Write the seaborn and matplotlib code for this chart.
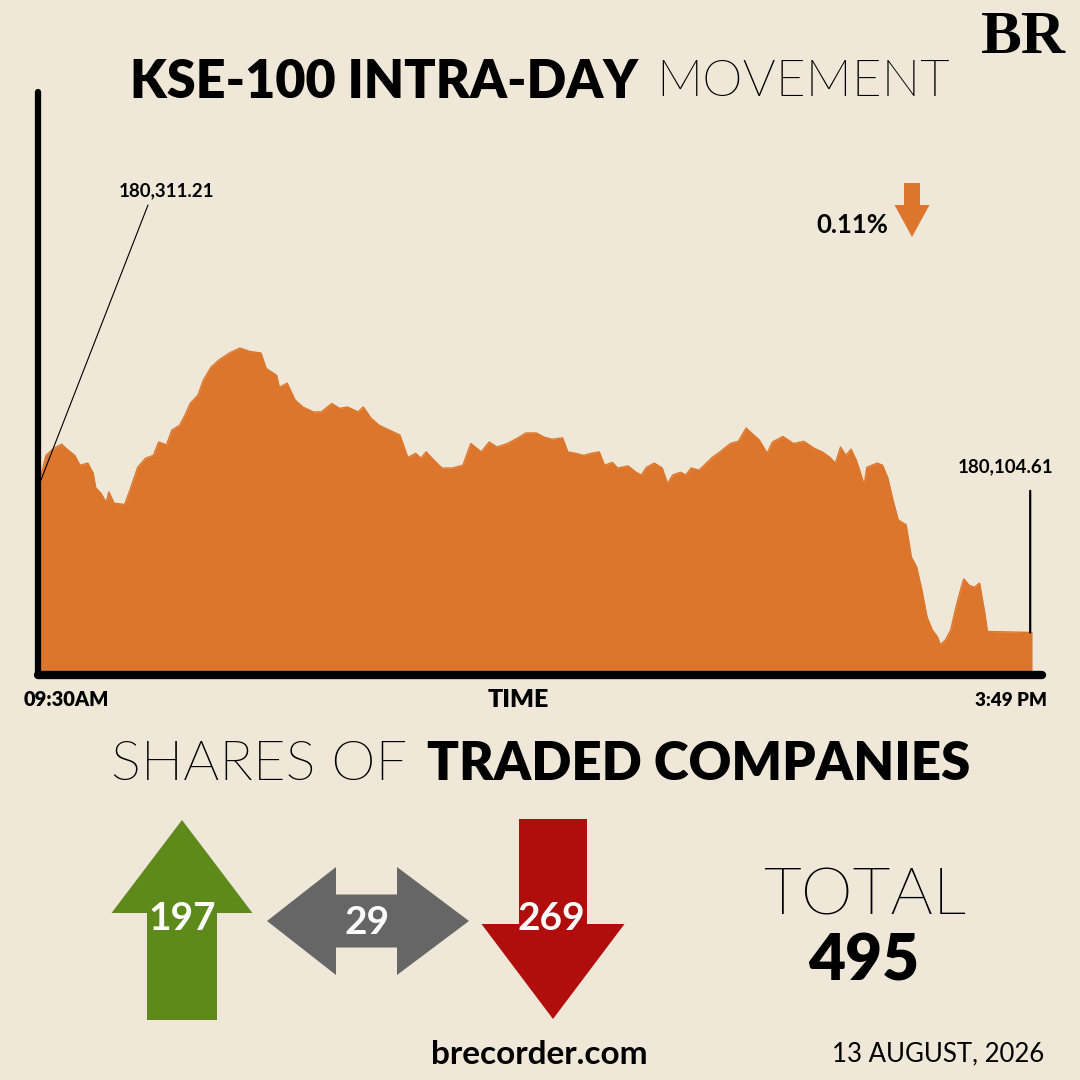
import matplotlib
matplotlib.use("Agg")
import matplotlib.pyplot as plt
import seaborn as sns
import pandas as pd
from matplotlib.patches import Polygon
from matplotlib import font_manager

# minutes after 09:30 and KSE-100 level
minutes = [0, 3, 6, 9, 11, 14, 16, 19, 21, 22, 24, 26, 27, 29, 33, 35, 38, 41, 44, 46,
           49, 51, 54, 56, 58, 61, 63, 66, 69, 73, 77, 81, 85, 87, 91, 92, 95, 98, 101, 105,
           108, 112, 115, 118, 122, 124, 127, 130, 134, 138, 141, 144, 146, 148, 151, 154, 158, 162, 165, 169,
           172, 175, 179, 183, 186, 190, 193, 196, 200, 202, 205, 208, 211, 214, 216, 219, 221, 225, 228, 230,
           232, 235, 238, 240, 242, 245, 247, 249, 252, 254, 257, 260, 264, 267, 270, 272, 275, 278, 280, 284,
           288, 292, 296, 299, 302, 304, 306, 308, 310, 312, 313, 315, 316, 320, 322, 324, 326, 328, 331, 333,
           335, 337, 339, 341, 343, 344, 346, 348, 350, 352, 353, 355, 357, 359, 361, 362, 379]
kse = [180311.21, 180357, 180367, 180373, 180366, 180357, 180343, 180346, 180332, 180311,
       180303, 180290, 180305, 180289, 180287, 180307, 180340, 180353, 180357, 180376,
       180372, 180393, 180400, 180414, 180431, 180443, 180464, 180483, 180493, 180503,
       180510, 180505, 180503, 180481, 180471, 180454, 180460, 180436, 180426, 180419,
       180419, 180431, 180424, 180426, 180419, 180426, 180410, 180400, 180393, 180386,
       180354, 180360, 180353, 180362, 180350, 180339, 180339, 180343, 180374, 180362,
       180376, 180369, 180374, 180382, 180389, 180389, 180383, 180380, 180382, 180362,
       180360, 180357, 180360, 180362, 180343, 180347, 180339, 180342, 180333, 180329,
       180340, 180346, 180339, 180317, 180329, 180333, 180329, 180339, 180336, 180343,
       180354, 180362, 180374, 180377, 180396, 180389, 180379, 180360, 180376, 180384,
       180374, 180377, 180367, 180362, 180354, 180346, 180369, 180357, 180366, 180350,
       180339, 180315, 180340, 180346, 180343, 180325, 180293, 180265, 180258, 180212,
       180198, 180165, 180126, 180108, 180098, 180087, 180094, 180108, 180141, 180169,
       180181, 180172, 180169, 180175, 180132, 180106, 180104.61]

advancers = 197
unchanged = 29
decliners = 269
date_label = "13 AUGUST, 2026"

bg = "#EFE8D8"
orange = "#DC762C"
green = "#5E8A1C"
grey = "#666666"
red = "#B20D0D"

sns.set_style("white")
plt.rcParams['font.family'] = ['Lato', 'DejaVu Sans']
plt.rcParams['text.color'] = 'black'

# pick Lato Light by file if it is there, the "light" weight lookup lands on Hairline
light_font = None
for f in font_manager.fontManager.ttflist:
    fn = f.fname.lower()
    if "lato" in fn and "light" in fn and "italic" not in fn:
        light_font = font_manager.FontProperties(fname=f.fname)
        break
if light_font is None:
    light_font = font_manager.FontProperties(family="Lato", weight="normal")

fig = plt.figure(figsize=(10.8, 10.8), dpi=100)
fig.patch.set_facecolor(bg)

def fx(px):
    return px / 1080

def fy(py):
    return 1 - py / 1080

# main area chart
ax = fig.add_axes([fx(38), fy(675), fx(1042) - fx(38), fy(92) - fy(675)])
ax.set_facecolor(bg)
df = pd.DataFrame({"minute": minutes, "kse": kse})
sns.lineplot(data=df, x="minute", y="kse", color=orange, lw=1, ax=ax)
ax.fill_between(df["minute"], df["kse"], 179000, color=orange, lw=0)
ax.set_xlim(0, 382.8)
ax.set_ylim(180044, 180875)
ax.set_xticks([])
ax.set_yticks([])
ax.set_xlabel("")
ax.set_ylabel("")
for s in ["top", "right"]:
    ax.spines[s].set_visible(False)
ax.spines["left"].set_linewidth(4.5)
ax.spines["left"].set_color("black")
ax.spines["left"].set_capstyle("round")
ax.spines["bottom"].set_linewidth(6)
ax.spines["bottom"].set_color("black")
ax.spines["bottom"].set_capstyle("round")

# open / close annotations
ax.annotate("", xy=(minutes[0], kse[0]), xytext=(148, 1080 - 205), textcoords="figure pixels",
            arrowprops=dict(arrowstyle="-", lw=0.8, color="black", shrinkA=0, shrinkB=0))
fig.text(fx(166), fy(191), f"{kse[0]:,.2f}", ha="center", va="center", fontsize=13.5, fontweight="bold")
ax.annotate("", xy=(378.3, kse[-1]), xytext=(0, 102), textcoords="offset points",
            arrowprops=dict(arrowstyle="-", lw=1.6, color="black", shrinkA=0, shrinkB=0))
fig.text(fx(1006), fy(467), f"{kse[-1]:,.2f}", ha="center", va="center", fontsize=13.5, fontweight="bold")

change = (kse[-1] - kse[0]) / kse[0] * 100
fig.text(fx(888), fy(225), f"{abs(change):.2f}%", ha="right", va="center", fontsize=18.5, fontweight="bold")

# overlay for headings and arrows, pixel coordinates
ov = fig.add_axes([0, 0, 1, 1])
ov.set_xlim(0, 1080)
ov.set_ylim(1080, 0)
ov.axis("off")

def vert_arrow(cx, shaft_end, head_base, tip, head_half, shaft_half, color):
    pts = [(cx - shaft_half, shaft_end), (cx + shaft_half, shaft_end), (cx + shaft_half, head_base),
           (cx + head_half, head_base), (cx, tip), (cx - head_half, head_base), (cx - shaft_half, head_base)]
    ov.add_patch(Polygon(pts, closed=True, color=color, lw=0))

def double_arrow(cy, ltip, lbase, rbase, rtip, head_half, shaft_half, color):
    pts = [(ltip, cy), (lbase, cy - head_half), (lbase, cy - shaft_half), (rbase, cy - shaft_half),
           (rbase, cy - head_half), (rtip, cy), (rbase, cy + head_half), (rbase, cy + shaft_half),
           (lbase, cy + shaft_half), (lbase, cy + head_half)]
    ov.add_patch(Polygon(pts, closed=True, color=color, lw=0))

vert_arrow(912, 183, 205, 237, 17.5, 8, orange)
vert_arrow(182, 1020, 913, 820, 70.5, 35, green)
double_arrow(921, 267, 336, 397, 469, 54, 26.5, grey)
vert_arrow(553, 819, 924, 1019, 71.5, 34, red)

ov.text(182, 918, str(advancers), ha="center", va="center", color="white", fontsize=28, fontweight="bold")
ov.text(367, 923, str(unchanged), ha="center", va="center", color="white", fontsize=28, fontweight="bold")
ov.text(551, 918, str(decliners), ha="center", va="center", color="white", fontsize=28, fontweight="bold")

# titles
ov.text(638, 82, "KSE-100 INTRA-DAY", ha="right", va="center", fontsize=37.5, fontweight="heavy")
ov.text(656, 82, "MOVEMENT", ha="left", va="center", fontproperties=light_font, fontsize=37)
ov.text(407, 765, "SHARES OF", ha="right", va="center", fontproperties=light_font, fontsize=40.5)
ov.text(427, 765, "TRADED COMPANIES", ha="left", va="center", fontsize=38, fontweight="heavy")
ov.text(518, 700, "TIME", ha="center", va="center", fontsize=18, fontweight="heavy")
ov.text(66, 700, "09:30AM", ha="center", va="center", fontsize=14.5, fontweight="heavy")
ov.text(1011, 700, "3:49 PM", ha="center", va="center", fontsize=13.5, fontweight="heavy")

ov.text(865, 897, "TOTAL", ha="center", va="center", fontproperties=light_font, fontsize=47.5)
ov.text(864, 962, str(advancers + unchanged + decliners), ha="center", va="center", fontsize=46, fontweight="heavy")
ov.text(938, 1054, date_label, ha="center", va="center", fontsize=18.5)
ov.text(539, 1055, "brecorder.com", ha="center", va="center", fontsize=24, fontweight="bold")
ov.text(1023, 38, "BR", ha="center", va="center", fontsize=44, fontweight="bold",
        family=["Liberation Serif", "DejaVu Serif"])

fig.savefig("out.png", dpi=100, facecolor=bg)
